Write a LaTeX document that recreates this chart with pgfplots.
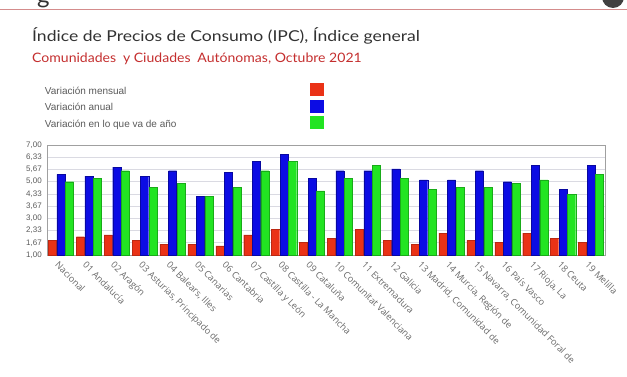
\documentclass[border=0pt]{standalone}
\usepackage{pgfplots}
\pgfplotsset{compat=1.18}
\usepackage{pgfplotstable}
\usepackage{fontspec}
\setmainfont{Liberation Sans}
\newfontfamily\titlefont[FakeStretch=1.17]{Lato}
\newfontfamily\subfont[FakeStretch=1.08]{Lato}
\newfontfamily\gfont{Lato}
\newfontfamily\labelfont{Open Sans}
\definecolor{barred}{RGB}{234,50,22}
\definecolor{barblue}{RGB}{12,12,228}
\definecolor{bargreen}{RGB}{34,228,34}
\definecolor{hdrline}{RGB}{212,140,140}
\definecolor{titlegray}{RGB}{50,50,50}
\definecolor{subred}{RGB}{196,46,46}
\definecolor{txtgray}{RGB}{90,90,90}
\definecolor{lblgray}{RGB}{105,105,105}
\definecolor{gridgray}{RGB}{218,218,226}
\definecolor{framegray}{RGB}{160,160,160}

\pgfplotstableread{
idx mensual anual anyo
0 1.8 5.4 5.0
1 2.0 5.3 5.2
2 2.1 5.8 5.6
3 1.8 5.3 4.7
4 1.6 5.6 4.9
5 1.6 4.2 4.2
6 1.5 5.5 4.7
7 2.1 6.1 5.6
8 2.4 6.5 6.1
9 1.7 5.2 4.5
10 1.9 5.6 5.2
11 2.4 5.6 5.9
12 1.8 5.7 5.2
13 1.6 5.1 4.6
14 2.2 5.1 4.7
15 1.8 5.6 4.7
16 1.7 5.0 4.9
17 2.2 5.9 5.1
18 1.9 4.6 4.3
19 1.7 5.9 5.4
}\datatable

\begin{document}
\begin{tikzpicture}[x=1pt,y=1pt]
\useasboundingbox (0,0) rectangle (627,376);
\draw[color=hdrline, line width=1pt] (0,366) -- (627,366);
\fill[black!75] (613,379) circle (11);
\node[anchor=base west, inner sep=0, font=\gfont\fontsize{24}{26}\selectfont, text=titlegray] at (37,373) {g};
\node[anchor=base west, inner sep=0, font=\titlefont\fontsize{15}{18}\selectfont, text=titlegray] at (32,335) {Índice de Precios de Consumo (IPC), Índice general};
\node[anchor=base west, inner sep=0, font=\subfont\fontsize{13}{15}\selectfont, text=subred] at (32,314) {Comunidades\hspace{0.25em} y Ciudades\hspace{0.25em} Autónomas, Octubre 2021};
\begin{axis}[
  at={(47pt,121pt)}, anchor=south west,
  width=558pt, height=110pt, scale only axis,
  xmin=-0.5, xmax=19.5, ymin=1, ymax=7,
  xtick=data,
  xticklabels={Nacional,01 Andalucía,02 Aragón,{03 Asturias, Principado de},{04 Balears, Illes},05 Canarias,06 Cantabria,07 Castilla y León,08 Castilla - La Mancha,09 Cataluña,10 Comunitat Valenciana,11 Extremadura,12 Galicia,{13 Madrid, Comunidad de},{14 Murcia, Región de},{15 Navarra, Comunidad Foral de},16 País Vasco,{17 Rioja, La},18 Ceuta,19 Melilla},
  xticklabel style={rotate=-45, anchor=north west, inner sep=0pt, font=\labelfont\fontsize{9.2}{10}\selectfont, text=lblgray, xshift=3pt, yshift=-5pt},
  ytick={1,1.66667,2.33333,3,3.66667,4.33333,5,5.66667,6.33333,7},
  yticklabels={{1,00},{1,67},{2,33},{3,00},{3,67},{4,33},{5,00},{5,67},{6,33},{7,00}},
  yticklabel style={font=\fontsize{8}{9}\selectfont, text=txtgray, inner sep=1pt, xshift=-4pt},
  major tick length=0pt,
  ymajorgrids, grid style={gridgray, line width=0.6pt},
  axis line style={framegray, line width=1pt},
  legend plot pos=right,
  legend cell align=left,
  legend style={at={(-0.004,1.565)}, anchor=north west, draw=none, fill=none, inner sep=0pt,
    font=\fontsize{10}{12}\selectfont, text=txtgray, row sep=1.5pt,
    nodes={inner sep=0pt, text height=8pt, text depth=4pt}},
]
\addplot[ybar, bar width=0.29, bar shift=-0.305, fill=barred, draw=barred!80!black, line width=0.3pt,
  legend image code/.code={\fill[barred] (2pt,-3pt) rectangle (15pt,9pt);}] table[x=idx, y=mensual] {\datatable};
\addlegendentry{\makebox[265pt][l]{Variación mensual}}
\addplot[ybar, bar width=0.29, bar shift=0, fill=barblue, draw=barblue!70!black, line width=0.3pt,
  legend image code/.code={\fill[barblue] (2pt,-3pt) rectangle (15pt,9pt);}] table[x=idx, y=anual] {\datatable};
\addlegendentry{\makebox[265pt][l]{Variación anual}}
\addplot[ybar, bar width=0.29, bar shift=0.305, fill=bargreen, draw=bargreen!75!black, line width=0.3pt,
  legend image code/.code={\fill[bargreen] (2pt,-3pt) rectangle (15pt,9pt);}] table[x=idx, y=anyo] {\datatable};
\addlegendentry{\makebox[265pt][l]{Variación en lo que va de año}}
\end{axis}
\end{tikzpicture}
\end{document}
